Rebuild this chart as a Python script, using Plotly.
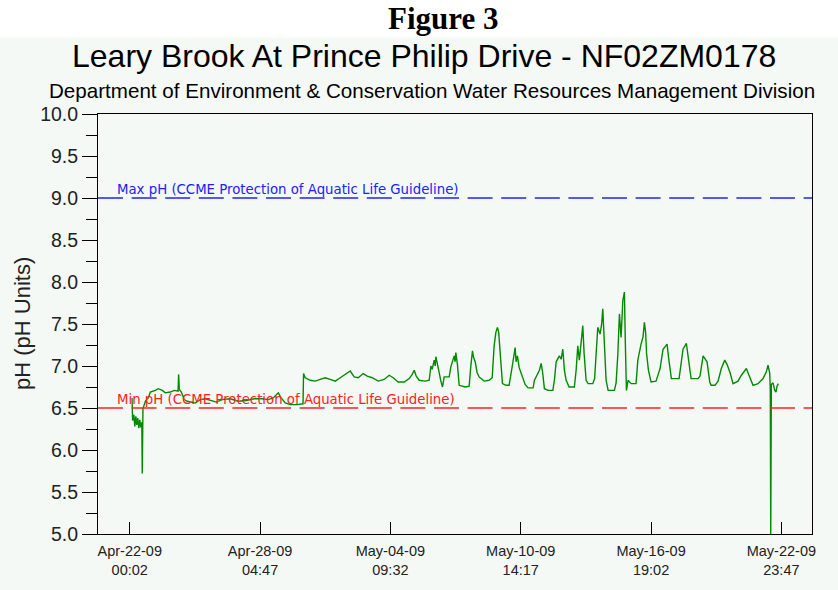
import pandas as pd
import plotly.graph_objects as go

# Time origin for the series and for the first axis tick
START = "2009-04-22 00:02"

# Hours after START for each reading, and the pH recorded at that time
hours = [2.6, 3.3, 4.7, 5.8, 7.0, 8.1, 9.2, 10.4, 11.5, 12.7, 13.8, 14.3, 15.1, 17.8, 21.2, 23.5,
         29.2, 32.6, 37.2, 40.6, 46.3, 50.9, 55.2, 55.8, 56.6, 58.9, 62.3, 65.7, 74.8, 80.5, 86.2,
         91.9, 98.8, 105.6, 114.8, 123.9, 133.0, 142.1, 151.3, 158.1, 163.8, 169.5, 172.9, 177.5,
         183.2, 191.2, 197.8, 198.4, 200.3, 206.0, 211.7, 217.4, 223.1, 228.8, 234.6, 240.3, 244.8,
         251.7, 256.2, 260.8, 266.5, 271.1, 276.8, 283.6, 290.4, 296.2, 300.7, 306.4, 313.3, 319.0,
         322.4, 324.7, 327.0, 330.4, 337.2, 341.8, 343.7, 345.2, 347.5, 348.6, 349.4, 350.9, 352.6,
         355.1, 357.0, 358.9, 364.6, 366.5, 368.6, 370.3, 371.4, 372.2, 374.1, 376.0, 382.9, 387.4,
         389.4, 391.2, 392.5, 394.3, 396.5, 398.8, 404.5, 410.2, 413.7, 415.9, 417.9, 419.7, 421.1,
         423.6, 425.4, 429.6, 433.0, 436.8, 438.2, 439.9, 441.0, 442.5, 444.5, 446.7, 449.0, 451.3,
         454.7, 460.4, 461.9, 463.9, 467.6, 469.6, 471.3, 473.3, 477.5, 482.9, 484.7, 486.7, 490.4,
         492.4, 494.3, 496.1, 498.1, 501.5, 507.5, 509.5, 511.4, 513.2, 515.2, 517.1, 518.6, 520.9,
         523.2, 528.5, 530.6, 532.3, 534.2, 536.9, 538.6, 539.9, 540.9, 542.0, 543.7, 546.0, 553.2,
         555.1, 557.1, 558.9, 560.8, 562.8, 564.6, 565.6, 566.9, 568.8, 572.2, 577.9, 579.9, 583.6,
         585.9, 587.4, 588.8, 589.9, 592.0, 595.0, 600.7, 605.3, 608.7, 611.8, 613.3, 615.0, 616.7,
         618.2, 627.0, 629.6, 631.5, 635.3, 637.2, 639.2, 640.7, 648.7, 650.9, 654.4, 656.6, 658.9,
         662.0, 663.5, 668.0, 671.5, 675.2, 679.1, 681.7, 685.2, 688.6, 694.3, 698.1, 703.8, 706.8,
         711.4, 717.1, 722.8, 726.6, 728.5, 730.5, 731.1, 731.6, 732.3, 734.2, 736.2, 737.6, 738.8,
         740.3]

ph = [6.62, 6.35, 6.42, 6.28, 6.40, 6.30, 6.38, 6.26, 6.36, 6.27, 6.33, 5.72, 6.49, 6.58, 6.62, 6.69,
      6.71, 6.73, 6.71, 6.68, 6.69, 6.71, 6.70, 6.90, 6.72, 6.69, 6.60, 6.58, 6.56, 6.60, 6.61,
      6.59, 6.57, 6.60, 6.61, 6.58, 6.59, 6.61, 6.61, 6.60, 6.62, 6.68, 6.62, 6.56,
      6.54, 6.54, 6.55, 6.91, 6.86, 6.83, 6.82, 6.84, 6.86, 6.84, 6.82, 6.86, 6.89,
      6.94, 6.87, 6.86, 6.91, 6.88, 6.86, 6.82, 6.84, 6.89, 6.86, 6.81, 6.81, 6.85,
      6.90, 6.95, 6.88, 6.83, 6.82, 6.83, 7.00, 6.96, 7.07, 7.00, 7.11, 7.02, 6.95,
      6.82, 6.75, 6.87, 6.87, 6.99, 7.05, 7.12, 7.05, 7.16, 7.01, 6.77, 6.75, 6.76,
      7.01, 7.18, 7.10, 7.05, 6.92, 6.87, 6.82, 6.83, 6.86, 7.24, 7.40, 7.46, 7.40,
      7.01, 6.79, 6.77, 6.77, 7.01, 7.10, 7.22, 7.05, 7.12, 6.98, 6.92, 6.85, 6.78,
      6.74, 6.74, 6.83, 6.87, 6.95, 7.03, 6.92, 6.73, 6.71, 6.71, 6.83, 7.05, 7.12,
      7.08, 7.20, 6.95, 6.83, 6.75, 6.75, 6.95, 7.24, 7.07, 7.29, 7.48, 7.15, 6.83,
      6.79, 6.79, 6.85, 7.14, 7.46, 7.38, 7.50, 7.68, 7.45, 7.10, 6.83, 6.71, 6.71,
      6.80, 7.14, 7.62, 7.34, 7.78, 7.88, 7.30, 6.71, 6.83, 6.79, 6.79, 7.07, 7.26,
      7.35, 7.52, 7.40, 7.15, 6.95, 6.81, 6.82, 6.97, 7.20, 7.24, 7.26, 7.10, 6.95,
      6.85, 6.85, 7.09, 7.20, 7.27, 7.12, 6.97, 6.85, 6.85, 6.88, 7.12, 7.08, 7.05,
      6.81, 6.77, 6.77, 6.82, 6.97, 7.07, 7.02, 6.92, 6.79, 6.82, 6.89, 6.97, 6.89,
      6.77, 6.79, 6.85, 6.93, 7.01, 6.91, 6.70, 5.00, 6.78, 6.80, 6.71, 6.69, 6.76,
      6.79]

assert len(hours) == len(ph)

# Guideline levels
MAX_PH = 9.0
MIN_PH = 6.5
MAX_LABEL = "Max pH (CCME Protection of Aquatic Life Guideline)"
MIN_LABEL = "Min pH (CCME Protection of Aquatic Life Guideline)"

# Axis ticks
x_tick_times = ["2009-04-22 00:02", "2009-04-28 04:47", "2009-05-04 09:32",
                "2009-05-10 14:17", "2009-05-16 19:02", "2009-05-22 23:47"]
x_tick_labels = ["Apr-22-09<br>00:02", "Apr-28-09<br>04:47", "May-04-09<br>09:32",
                 "May-10-09<br>14:17", "May-16-09<br>19:02", "May-22-09<br>23:47"]
x_range = ["2009-04-20 11:50", "2009-05-24 10:44"]
y_ticks = [5.0, 5.5, 6.0, 6.5, 7.0, 7.5, 8.0, 8.5, 9.0, 9.5, 10.0]

TITLE = "Leary Brook At Prince Philip Drive - NF02ZM0178"
SUBTITLE = "Department of Environment & Conservation Water Resources Management Division"
FIG_LABEL = "Figure 3"
Y_TITLE = "pH (pH Units)"

BG = "#F4F9F5"
SANS = "Liberation Sans, Arial, sans-serif"
LABEL_FONT = "DejaVu Sans, Verdana, sans-serif"

times = pd.Timestamp(START) + pd.to_timedelta(hours, unit="h")

fig = go.Figure()
fig.add_trace(go.Scatter(x=times, y=ph, mode="lines",
                         line=dict(color="#008A00", width=1.4),
                         showlegend=False, hoverinfo="x+y"))

# Guideline lines across the full plot width
for level, colour in [(MAX_PH, "#2020FF"), (MIN_PH, "#FF2020")]:
    fig.add_shape(type="line", xref="paper", yref="y", x0=0, x1=1, y0=level, y1=level,
                  line=dict(color=colour, width=1.5, dash="25px,8.6px"), layer="above")

# White band behind the figure number
fig.add_shape(type="rect", xref="paper", yref="paper", x0=-0.2, x1=1.2, y0=1.1825, y1=1.35,
              fillcolor="white", line=dict(width=0), layer="below")

annotations = [
    dict(text=f"<b>{FIG_LABEL}</b>", x=0.4832, y=1.2275, xref="paper", yref="paper",
         xanchor="center", yanchor="middle", showarrow=False,
         font=dict(family="Liberation Serif, Times New Roman, serif", size=31, color="black")),
    dict(text=TITLE, x=0.4559, y=1.1374, xref="paper", yref="paper",
         xanchor="center", yanchor="middle", showarrow=False,
         font=dict(family=SANS, size=32, color="black")),
    dict(text=SUBTITLE, x=0.4671, y=1.0569, xref="paper", yref="paper",
         xanchor="center", yanchor="middle", showarrow=False,
         font=dict(family=SANS, size=20.6, color="black")),
    dict(text=Y_TITLE, x=-0.1064, y=0.5, xref="paper", yref="paper", textangle=-90,
         xanchor="center", yanchor="middle", showarrow=False,
         font=dict(family=SANS, size=22, color="#222")),
    dict(text=MAX_LABEL, x=0.024, y=MAX_PH, xref="paper", yref="y", yshift=9,
         xanchor="left", yanchor="middle", showarrow=False,
         font=dict(family=LABEL_FONT, size=13.3, color="#2020FF")),
    dict(text=MIN_LABEL, x=0.024, y=MIN_PH, xref="paper", yref="y", yshift=9,
         xanchor="left", yanchor="middle", showarrow=False,
         font=dict(family=LABEL_FONT, size=13.3, color="#FF2020")),
]

fig.update_layout(
    width=838, height=590,
    margin=dict(l=98, r=26, t=114, b=54),
    paper_bgcolor=BG, plot_bgcolor=BG,
    annotations=annotations,
    showlegend=False,
)

fig.update_xaxes(
    type="date", range=x_range,
    tickmode="array", tickvals=x_tick_times, ticktext=x_tick_labels,
    ticks="inside", ticklen=12, tickcolor="black", tickwidth=1,
    ticklabelstandoff=4,
    tickfont=dict(family=SANS, size=14.5, color="#222"),
    showgrid=False, zeroline=False,
    showline=True, linecolor="black", linewidth=1, mirror=True,
)

fig.update_yaxes(
    range=[5, 10], tickmode="array", tickvals=y_ticks,
    ticktext=[f"{v:.1f}" for v in y_ticks],
    ticks="outside", ticklen=15, tickcolor="black", tickwidth=1,
    minor=dict(dtick=0.25, tick0=5, ticks="outside", ticklen=11, tickcolor="black", showgrid=False),
    tickfont=dict(family=SANS, size=19.5, color="#222"),
    showgrid=False, zeroline=False,
    showline=True, linecolor="black", linewidth=1, mirror=True,
)

fig.write_html("out.html")
